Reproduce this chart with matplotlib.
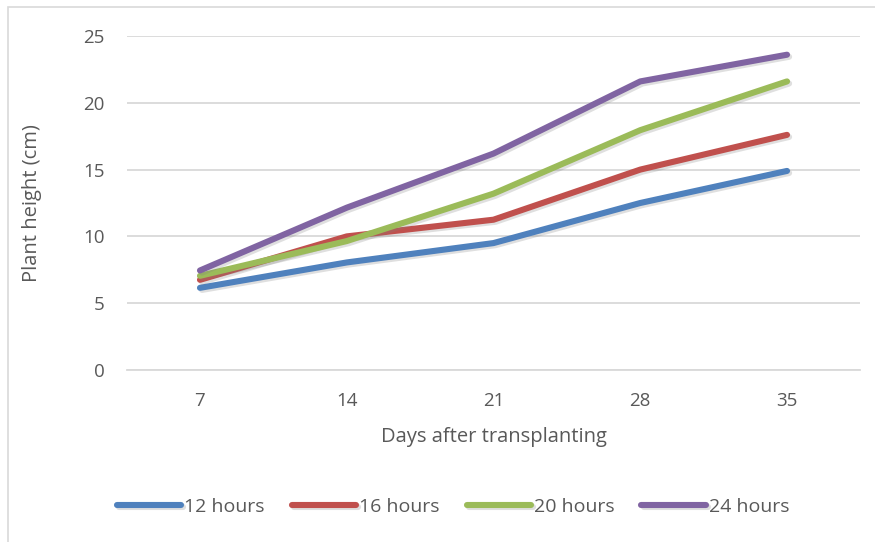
import numpy as np
import matplotlib as mpl
mpl.use("Agg")
import matplotlib.pyplot as plt
from matplotlib import patheffects as pe
from matplotlib.patches import Rectangle

plt.rcParams['font.family'] = ['Open Sans', 'DejaVu Sans']

days = ['7', '14', '21', '28', '35']
h12 = [6.15, 8.05, 9.5, 12.5, 14.9]
h16 = [6.75, 10.0, 11.25, 15.0, 17.6]
h20 = [7.05, 9.65, 13.2, 17.95, 21.6]
h24 = [7.45, 12.15, 16.2, 21.6, 23.6]
names = ['12 hours', '16 hours', '20 hours', '24 hours']
colors = ['#4F81BD', '#C0504D', '#9BBB59', '#8064A2']
yticks = [0, 5, 10, 15, 20, 25]

W, H = 875, 542
fig = plt.figure(figsize=(W / 100, H / 100), dpi=100)
ax = fig.add_axes([126.6 / W, 1 - 370 / H, 733.8 / W, 334 / H])

# chart frame (cropped, only top and left edges visible)
fig.patches.append(Rectangle((8 / W, -0.1), 1.2, 1 - 7 / H + 0.1, transform=fig.transFigure,
                             fill=False, edgecolor='#D9D9D9', linewidth=1.2))

x = np.arange(len(days))
shadow = [pe.SimpleLineShadow(offset=(1.5, -1.5), shadow_color='gray', alpha=0.25), pe.Normal()]
for vals, name, c in zip([h12, h16, h20, h24], names, colors):
    ax.plot(x, vals, color=c, linewidth=4.4, solid_capstyle='round',
            solid_joinstyle='round', label=name, path_effects=shadow)

ax.set_xlim(-0.5, len(days) - 0.5)
ax.set_ylim(0, 25)
ax.set_xticks(x)
ax.set_xticklabels(days)
ax.set_yticks(yticks)
ax.grid(axis='y', color='#D9D9D9', linewidth=1.3)
ax.set_axisbelow(True)
for s in ['top', 'right', 'left']:
    ax.spines[s].set_visible(False)
ax.spines['bottom'].set_color('#D9D9D9')
ax.spines['bottom'].set_linewidth(1.3)
ax.tick_params(axis='both', length=0, colors='#595959', labelsize=13.5)
for lab in ax.get_xticklabels():
    lab.set_va('center')
for lab in ax.get_yticklabels():
    lab.set_ha('right')
ax.tick_params(axis='x', pad=22)
ax.tick_params(axis='y', pad=16)

ax.set_xlabel('Days after transplanting', fontsize=14.5, color='#595959')
ax.set_ylabel('Plant height (cm)', fontsize=14.5, color='#595959')
ax.xaxis.set_label_coords(0.5, -(437 - 370) / 334)
ax.yaxis.set_label_coords(-(126.6 - 32) / 733.8, 0.5)
ax.xaxis.label.set_va('center')
ax.yaxis.label.set_va('center')

fig.legend(loc='center', bbox_to_anchor=(453 / W, 1 - 507 / H), ncol=4, frameon=False,
           fontsize=14, handlelength=3.3, handletextpad=0.15, columnspacing=1.4,
           labelcolor='#595959')

plt.savefig('out.png', dpi=100)
